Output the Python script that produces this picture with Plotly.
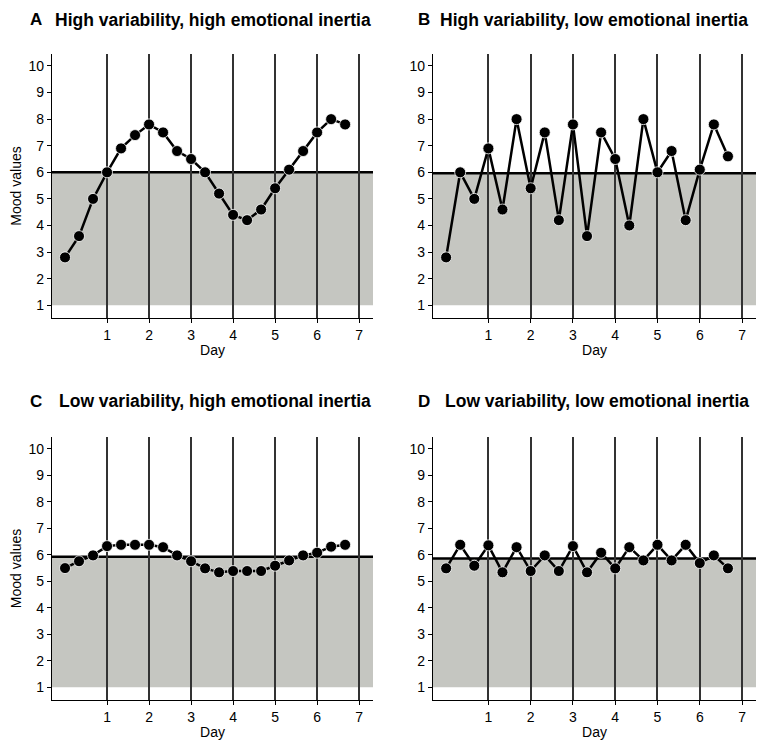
import plotly.graph_objects as go
from plotly.subplots import make_subplots

# 21 measurements, three per day
day = [i / 3 for i in range(21)]

mood_a = [2.8, 3.6, 5.0, 6.0, 6.9, 7.4, 7.8, 7.5, 6.8, 6.5, 6.0,
          5.2, 4.4, 4.2, 4.6, 5.4, 6.1, 6.8, 7.5, 8.0, 7.8]
mood_b = [2.8, 6.0, 5.0, 6.9, 4.6, 8.0, 5.4, 7.5, 4.2, 7.8, 3.6,
          7.5, 6.5, 4.0, 8.0, 6.0, 6.8, 4.2, 6.1, 7.8, 6.6]
mood_c = [5.5, 5.76, 5.98, 6.33, 6.38, 6.38, 6.38, 6.29, 5.98, 5.76, 5.49,
          5.34, 5.39, 5.39, 5.39, 5.59, 5.79, 5.98, 6.08, 6.31, 6.38]
mood_d = [5.49, 6.38, 5.59, 6.36, 5.34, 6.29, 5.39, 5.98, 5.39, 6.33, 5.34,
          6.08, 5.49, 6.29, 5.79, 6.38, 5.79, 6.38, 5.69, 5.98, 5.49]

means = [6.0, 5.96, 5.93, 5.86]
band_low = 1
letters = ["A", "B", "C", "D"]
titles = ["High variability, high emotional inertia",
          "High variability, low emotional inertia",
          "Low variability, high emotional inertia",
          "Low variability, low emotional inertia"]
day_ticks = [1, 2, 3, 4, 5, 6, 7]
mood_ticks = list(range(1, 11))

# page has an 8px body margin, so the figure is drawn 8px in from the window
OFF = 8
W, H = 765 - OFF, 756 - OFF
FONT = "Liberation Sans, Arial, sans-serif"

fig = make_subplots(rows=2, cols=2)

series = [mood_a, mood_b, mood_c, mood_d]
# panel boxes in window pixels: left, right, top, bottom
boxes = [(52, 373, 54, 318), (433, 756, 54, 318),
         (52, 373, 437, 700), (433, 756, 437, 700)]
# letter x, title x, title y (window pixels)
title_pos = [(28, 53, 20), (416, 438, 20), (28, 57, 401), (416, 443, 401)]

for k, ys in enumerate(series):
    r, c = k // 2 + 1, k % 2 + 1
    ax = "" if k == 0 else str(k + 1)
    fig.add_shape(type="rect", xref=f"x{ax} domain", yref=f"y{ax}",
                  x0=0, x1=1, y0=band_low, y1=means[k],
                  fillcolor="#c5c6c1", line_width=0, layer="below")
    fig.add_shape(type="line", xref=f"x{ax} domain", yref=f"y{ax}",
                  x0=0, x1=1, y0=means[k], y1=means[k],
                  line=dict(color="black", width=2.5), layer="below")

    fig.add_trace(go.Scatter(
        x=day, y=ys, mode="lines+markers",
        line=dict(color="black", width=2.5),
        marker=dict(color="black", size=11, line=dict(color="white", width=0.8)),
        showlegend=False), row=r, col=c)

    l, rr, t, b = [v - OFF for v in boxes[k]]
    fig.update_xaxes(domain=[l / W, rr / W], range=[-0.31, 7.33],
                     tickvals=day_ticks, showgrid=True, gridcolor="#333333",
                     gridwidth=1.6, zeroline=False, showline=True,
                     linecolor="black", linewidth=1.3, ticks="outside",
                     ticklen=4, tickcolor="black",
                     title=dict(text="Day", standoff=3,
                                font=dict(size=14, color="black")),
                     tickfont=dict(size=14, color="black"), row=r, col=c)
    fig.update_yaxes(domain=[1 - b / H, 1 - t / H], range=[0.52, 10.45],
                     tickvals=mood_ticks, showgrid=False, zeroline=False,
                     showline=True, linecolor="black", linewidth=1.3,
                     ticks="outside", ticklen=4, tickcolor="black",
                     tickfont=dict(size=14, color="black"), row=r, col=c)
    if c == 1:
        fig.update_yaxes(title=dict(text="Mood values", standoff=5,
                                    font=dict(size=14, color="black")),
                         row=r, col=c)

    lx, tx, ty = [v - OFF for v in title_pos[k]]
    fig.add_annotation(text=f"<b>{letters[k]}</b>", xref="paper", yref="paper",
                       x=lx / W, y=1 - ty / H, xanchor="left", yanchor="middle",
                       showarrow=False, font=dict(size=17, color="black"))
    fig.add_annotation(text=f"<b>{titles[k]}</b>", xref="paper", yref="paper",
                       x=tx / W, y=1 - ty / H, xanchor="left", yanchor="middle",
                       showarrow=False, font=dict(size=17.5, color="black"))

fig.update_layout(width=W, height=H, margin=dict(l=0, r=0, t=0, b=0),
                  plot_bgcolor="white", paper_bgcolor="white",
                  font=dict(family=FONT, color="black"))

fig.write_html("out.html")
